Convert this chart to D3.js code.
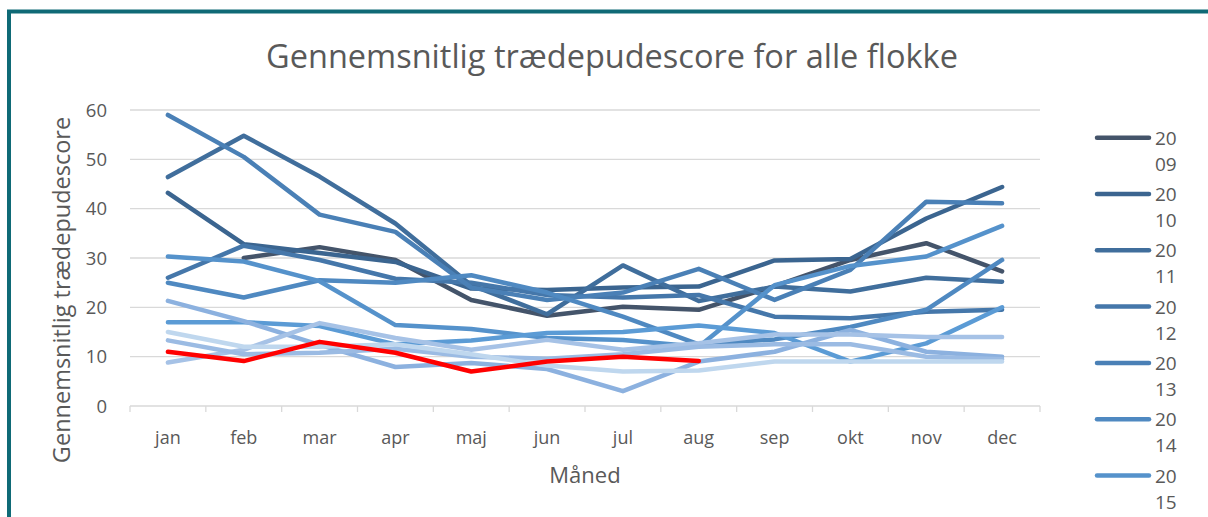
<!DOCTYPE html>
<html>
<head>
<meta charset="utf-8">
<script src="https://cdn.jsdelivr.net/npm/d3@7"></script>
<style>
  html, body { margin: 0; padding: 0; background: #fff; }
  svg { display: block; font-family: "Open Sans", Lato, sans-serif; }
</style>
</head>
<body>
<svg id="chart" width="1208" height="517"></svg>
<script>
// data
const months = ['jan', 'feb', 'mar', 'apr', 'maj', 'jun', 'jul', 'aug', 'sep', 'okt', 'nov', 'dec'];
const yearNames = ['2009', '2010', '2011', '2012', '2013', '2014', '2015', '2016', '2017', '2018', '2019', '2020', '2021'];
const yTicks = [0, 10, 20, 30, 40, 50, 60];

const v2009 = [null, 30.0, 32.2, 29.6, 21.5, 18.3, 20.1, 19.5, 24.3, 29.6, 33.0, 27.3];
const v2010 = [43.2, 32.8, 31.0, 29.2, 23.8, 23.5, 24.0, 24.2, 29.5, 29.8, 38.0, 44.4];
const v2011 = [46.4, 54.8, 46.5, 37.0, 24.5, 18.6, 28.5, 21.3, 24.2, 23.2, 26.0, 25.2];
const v2012 = [26.0, 32.5, 29.6, 25.8, 25.0, 22.5, 22.0, 22.5, 18.1, 17.8, 19.1, 19.5];
const v2013 = [59.0, 50.5, 38.8, 35.3, 24.0, 21.5, 23.0, 27.8, 21.5, 27.6, 41.4, 41.1];
const v2014 = [25.0, 22.0, 25.5, 25.0, 26.5, 23.0, 18.1, 12.5, 13.5, 16.0, 19.5, 29.6];
const v2015 = [30.3, 29.3, 25.3, 16.4, 15.6, 13.8, 13.4, 12.0, 24.5, 28.4, 30.3, 36.5];
const v2016 = [17.0, 17.0, 16.2, 12.5, 13.3, 14.8, 15.0, 16.3, 14.8, 9.0, 12.7, 20.0];
const v2017 = [21.3, 17.2, 12.4, 7.9, 8.7, 7.5, 3.0, 9.0, 11.0, 15.4, 11.0, 10.0];
const v2018 = [8.8, 11.4, 16.8, 13.8, 11.4, 13.4, 11.4, 12.7, 14.5, 14.5, 14.0, 14.0];
const v2019 = [13.3, 10.5, 10.8, 11.6, 10.0, 9.6, 10.5, 12.0, 12.5, 12.5, 10.0, 9.5];
const v2020 = [15.0, 12.0, 12.0, 12.5, 10.5, 8.2, 7.0, 7.2, 9.0, 9.0, 9.0, 9.0];
const v2021 = [11.0, 9.1, 13.0, 10.8, 7.0, 9.0, 10.0, 9.1];

const seriesValues = [v2009, v2010, v2011, v2012, v2013, v2014, v2015, v2016, v2017, v2018, v2019, v2020, v2021];
const seriesColors = ['#44546a', '#3b6590', '#406e9c', '#4577aa', '#4a80b6', '#4f89c1', '#5592cb',
                      '#5b9bd5', '#8cb1df', '#a6c2e6', '#9bbbe3', '#bfd7ee', '#ff0000'];

const W = 1208, H = 517;
const svg = d3.select('#chart');
const textColor = '#595959';
const gridColor = '#d9d9d9';

const x = d3.scaleBand().domain(months).range([130, 1040]);
const y = d3.scaleLinear().domain([0, 60]).range([406, 110]);
const cx = m => x(m) + x.bandwidth() / 2;

// outer frame
svg.append('rect')
    .attr('x', 9).attr('y', 11.5)
    .attr('width', W + 20).attr('height', H + 20)
    .attr('fill', 'none')
    .attr('stroke', '#0f6a76')
    .attr('stroke-width', 4);

// title
svg.append('text')
    .attr('x', 612).attr('y', 68)
    .attr('text-anchor', 'middle')
    .attr('fill', textColor)
    .attr('font-size', 32.5)
    .text('Gennemsnitlig trædepudescore for alle flokke');

// gridlines
svg.append('g').selectAll('line')
    .data(yTicks.filter(d => d > 0))
    .join('line')
    .attr('x1', 130).attr('x2', 1040)
    .attr('y1', d => y(d)).attr('y2', d => y(d))
    .attr('stroke', gridColor).attr('stroke-width', 1.3);

// y labels
svg.append('g').selectAll('text')
    .data(yTicks)
    .join('text')
    .attr('x', 107).attr('y', d => y(d) + 6.5)
    .attr('text-anchor', 'end')
    .attr('fill', textColor)
    .attr('font-size', 18.5)
    .text(d => d);

// x axis line and category ticks
svg.append('line')
    .attr('x1', 130).attr('x2', 1040)
    .attr('y1', y(0)).attr('y2', y(0))
    .attr('stroke', gridColor).attr('stroke-width', 1.3);

const edges = months.map(m => x(m)).concat([x.range()[1]]);
svg.append('g').selectAll('line')
    .data(edges)
    .join('line')
    .attr('x1', d => d).attr('x2', d => d)
    .attr('y1', y(0)).attr('y2', y(0) + 6)
    .attr('stroke', gridColor).attr('stroke-width', 1.3);

svg.append('g').selectAll('text')
    .data(months)
    .join('text')
    .attr('x', d => cx(d)).attr('y', 444)
    .attr('text-anchor', 'middle')
    .attr('fill', textColor)
    .attr('font-size', 18)
    .text(d => d);

// axis titles
svg.append('text')
    .attr('x', 585).attr('y', 483)
    .attr('text-anchor', 'middle')
    .attr('fill', textColor)
    .attr('font-size', 22)
    .text('Måned');

svg.append('text')
    .attr('transform', 'translate(70,290) rotate(-90)')
    .attr('text-anchor', 'middle')
    .attr('fill', textColor)
    .attr('font-size', 23.5)
    .text('Gennemsnitlig trædepudescore');

// lines
const line = d3.line()
    .defined(d => d.v != null)
    .x(d => cx(d.m))
    .y(d => y(d.v));

svg.append('g').selectAll('path')
    .data(seriesValues.map((vals, i) => ({ i, pts: vals.map((v, j) => ({ m: months[j], v })) })))
    .join('path')
    .attr('d', d => line(d.pts))
    .attr('fill', 'none')
    .attr('stroke', d => seriesColors[d.i])
    .attr('stroke-width', 4.5)
    .attr('stroke-linecap', 'round')
    .attr('stroke-linejoin', 'round');

// legend (narrow, so year labels wrap onto two lines)
const legend = svg.append('g');
yearNames.forEach((name, i) => {
    const ly = 137.7 + i * 56.3;
    if (ly > H - 30) return;
    legend.append('line')
        .attr('x1', 1097).attr('x2', 1149)
        .attr('y1', ly).attr('y2', ly)
        .attr('stroke', seriesColors[i])
        .attr('stroke-width', 4.5)
        .attr('stroke-linecap', 'round');
    const t = legend.append('text')
        .attr('fill', textColor)
        .attr('font-size', 19);
    t.append('tspan').attr('x', 1155).attr('y', ly + 7).text(name.slice(0, 2));
    t.append('tspan').attr('x', 1155).attr('y', ly + 33).text(name.slice(2));
});
</script>
</body>
</html>
